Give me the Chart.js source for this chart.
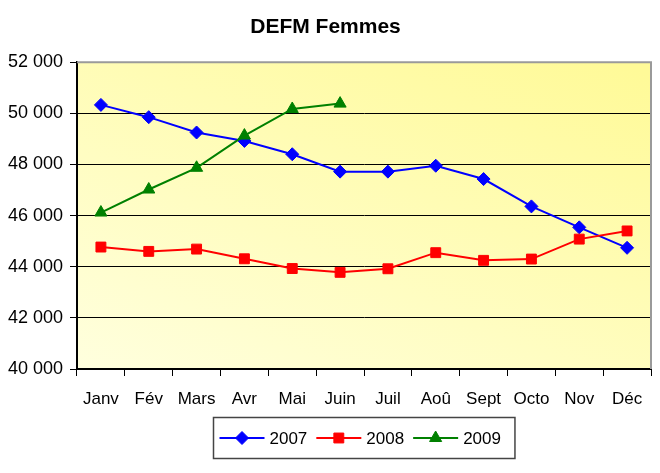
<!DOCTYPE html>
<html>
<head>
<meta charset="utf-8">
<script src="https://cdn.jsdelivr.net/npm/chart.js@4.4.1/dist/chart.umd.min.js"></script>
<style>
  html, body { margin: 0; padding: 0; background: #fff; }
  #wrap { width: 660px; height: 473px; }
</style>
</head>
<body>
<div id="wrap"><canvas id="chart" width="660" height="473"></canvas></div>
<script>
const months = ["Janv","Fév","Mars","Avr","Mai","Juin","Juil","Aoû","Sept","Octo","Nov","Déc"];
const years = ["2007","2008","2009"];

const defm2007 = [50330, 49850, 49250, 48920, 48400, 47720, 47720, 47950, 47430, 46360, 45540, 44740];
const defm2008 = [44770, 44600, 44690, 44310, 43930, 43780, 43920, 44550, 44250, 44300, 45080, 45400];
const defm2009 = [46120, 47020, 47870, 49130, 50170, 50380, null, null, null, null, null, null];

const yTicks = { min: 40000, max: 52000, step: 2000 };

const font = "'Liberation Sans', Arial, sans-serif";

function fmt(v){
    return String(v).replace(/\B(?=(\d{3})+$)/g, " ");
}

// plot background + grey frame (top/right)
const plotBg = {
    id: "plotBg",
    beforeDraw(chart){
        const {ctx, chartArea: a} = chart;
        const g = ctx.createLinearGradient(a.left, a.bottom, a.left + 200, a.top - 150);
        g.addColorStop(0, "#FFFFDE");
        g.addColorStop(1, "#FFFA98");
        ctx.save();
        ctx.fillStyle = g;
        ctx.fillRect(a.left, a.top, a.right - a.left, a.bottom - a.top);
        ctx.restore();
    },
    afterDatasetsDraw(chart){
        const {ctx, chartArea: a} = chart;
        ctx.save();
        ctx.strokeStyle = "#9a9a9a";
        ctx.lineWidth = 2;
        ctx.beginPath();
        ctx.moveTo(a.left, a.top);
        ctx.lineTo(a.right, a.top);
        ctx.lineTo(a.right, a.bottom);
        ctx.stroke();
        ctx.restore();
    }
};

// boxed legend with line + marker, centred under the plot
const boxLegend = {
    id: "boxLegend",
    afterDraw(chart){
        const {ctx, chartArea: a} = chart;
        const sets = chart.data.datasets;
        ctx.save();
        ctx.font = "17px " + font;
        const lineLen = 45, gapText = 5, gapItem = 9, padL = 6, padR = 14;
        let total = padL + padR;
        sets.forEach((d, i) => {
            total += lineLen + gapText + ctx.measureText(d.label).width;
            if (i < sets.length - 1) total += gapItem;
        });
        const h = 41;
        const x0 = Math.round((a.left + a.right) / 2 - total / 2) + 0.5;
        const y0 = a.bottom + 48.5;
        ctx.strokeStyle = "#444";
        ctx.lineWidth = 1.5;
        ctx.strokeRect(x0, y0, total, h);
        const cy = y0 + h / 2;
        let x = x0 + padL;
        sets.forEach(d => {
            ctx.strokeStyle = d.borderColor;
            ctx.lineWidth = 2;
            ctx.beginPath();
            ctx.moveTo(x, cy);
            ctx.lineTo(x + lineLen, cy);
            ctx.stroke();
            ctx.fillStyle = d.pointBackgroundColor;
            ctx.strokeStyle = d.borderColor;
            ctx.lineWidth = 1;
            Chart.helpers.drawPoint(ctx, {pointStyle: d.pointStyle, radius: d.pointRadius, rotation: 0, borderWidth: 1}, x + lineLen / 2, cy);
            x += lineLen + gapText;
            ctx.fillStyle = "#000";
            ctx.textBaseline = "middle";
            ctx.textAlign = "left";
            ctx.fillText(d.label, x, cy + 1);
            x += ctx.measureText(d.label).width + gapItem;
        });
        ctx.restore();
    }
};

function series(label, data, color, style, radius, order){
    return {
        label: label,
        data: data,
        borderColor: color,
        backgroundColor: color,
        pointBackgroundColor: color,
        pointBorderColor: color,
        pointStyle: style,
        pointRadius: radius,
        pointHoverRadius: radius,
        pointBorderWidth: 1,
        borderWidth: 2,
        tension: 0,
        order: order
    };
}

new Chart(document.getElementById("chart"), {
    type: "line",
    data: {
        labels: months,
        datasets: [
            series(years[0], defm2007, "#0000FF", "rectRot", 6.5, 3),
            series(years[1], defm2008, "#FF0000", "rect", 7, 2),
            series(years[2], defm2009, "#008000", "triangle", 7, 1)
        ]
    },
    options: {
        responsive: false,
        animation: false,
        layout: { padding: { left: 0, right: 9, top: 0, bottom: 56 } },
        plugins: {
            legend: { display: false },
            tooltip: { enabled: false },
            title: {
                display: true,
                text: "DEFM Femmes",
                color: "#000",
                font: { family: font, size: 21, weight: "bold" },
                padding: { top: 15, bottom: 22 }
            }
        },
        scales: {
            x: {
                offset: true,
                grid: { drawOnChartArea: false, drawTicks: true, tickLength: 7, color: "#000", offset: true },
                border: { color: "#000", width: 2 },
                ticks: { color: "#000", font: { family: font, size: 17 }, padding: 13, maxRotation: 0, autoSkip: false },
                afterFit(s){ s.height = 48; }
            },
            y: {
                min: yTicks.min,
                max: yTicks.max,
                grid: {
                    color: c => c.tick && c.tick.value === yTicks.max ? "rgba(0,0,0,0)" : "#000",
                    lineWidth: 1,
                    tickLength: 7,
                    tickColor: "#000"
                },
                border: { color: "#000", width: 2 },
                ticks: {
                    stepSize: yTicks.step,
                    color: "#000",
                    font: { family: font, size: 18 },
                    padding: 7,
                    callback: v => fmt(v)
                },
                afterFit(s){ s.width = 77; }
            }
        }
    },
    plugins: [plotBg, boxLegend]
});
</script>
</body>
</html>
